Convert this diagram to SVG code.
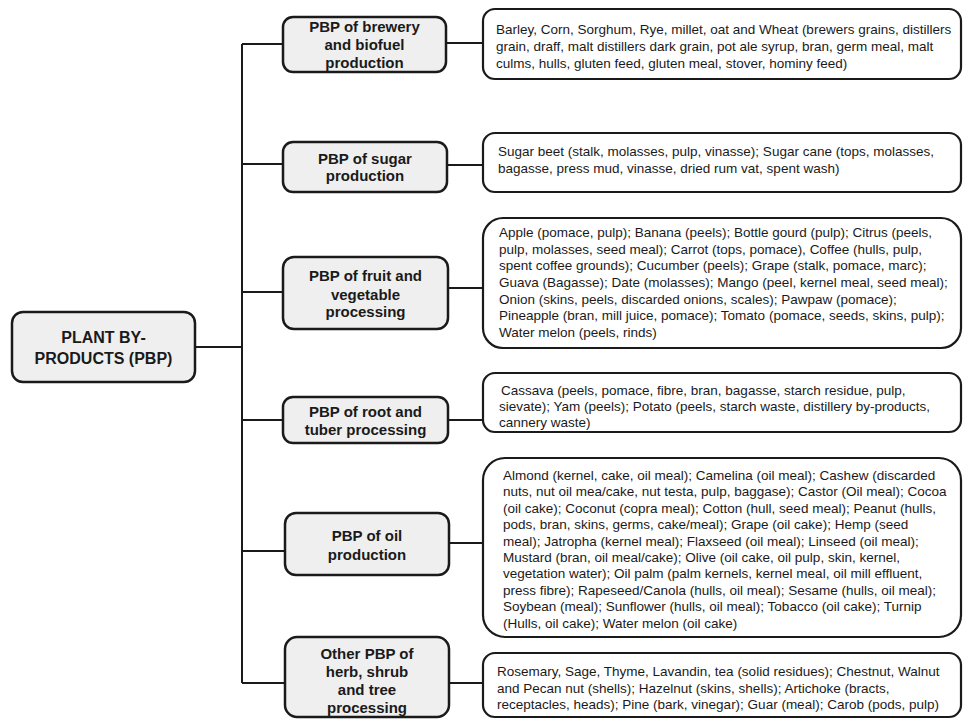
<svg xmlns="http://www.w3.org/2000/svg" width="964" height="719" viewBox="0 0 964 719">
<style>
.bg{fill:#ffffff}
.node{fill:#efefef;stroke:#1a1a1a;stroke-width:2.5}
.box{fill:#ffffff;stroke:#1a1a1a;stroke-width:2.2}
.nt{font-family:"Liberation Sans",Arial,sans-serif;font-weight:bold;font-size:15px;fill:#1a1a1a;text-anchor:middle}
.rt{font-family:"Liberation Sans",Arial,sans-serif;font-weight:bold;font-size:16px;fill:#1a1a1a;text-anchor:middle}
.bt{font-family:"Liberation Sans",Arial,sans-serif;font-size:13.5px;fill:#1a1a1a}
.con{stroke:#1a1a1a;stroke-width:2;fill:none}
</style>
<rect class="bg" x="0" y="0" width="964" height="719"/>
<g id="connectors">
<path class="con" d="M195,347 H242 M242,44 V683 M242,44 H283 M242,164 H283 M242,292 H283 M242,420 H283 M242,551 H285 M242,683 H285"/>
<path class="con" d="M446,43 H483 M447,165 H483 M448,288 H483 M448,420 H483 M449,543 H483 M449,683 H483"/>
</g>
<g id="root">
<rect class="node" x="12" y="312" width="183" height="70" rx="11"/>
<text class="rt" x="103.5" y="343">PLANT BY-</text>
<text class="rt" x="103.5" y="364">PRODUCTS (PBP)</text>
</g>
<g id="brewery">
<rect class="node" x="283" y="17" width="163" height="55" rx="10"/>
<text class="nt" x="364.5" y="32">PBP of brewery</text>
<text class="nt" x="364.5" y="50">and biofuel</text>
<text class="nt" x="364.5" y="68">production</text>
</g>
<g id="sugar">
<rect class="node" x="283" y="142" width="164" height="50" rx="10"/>
<text class="nt" x="365" y="164">PBP of sugar</text>
<text class="nt" x="365" y="181">production</text>
</g>
<g id="fruit">
<rect class="node" x="283" y="257" width="165" height="72" rx="11"/>
<text class="nt" x="365.5" y="281">PBP of fruit and</text>
<text class="nt" x="365.5" y="300">vegetable</text>
<text class="nt" x="365.5" y="317">processing</text>
</g>
<g id="roottuber">
<rect class="node" x="283" y="397" width="165" height="46" rx="10"/>
<text class="nt" x="365.5" y="417">PBP of root and</text>
<text class="nt" x="365.5" y="435">tuber processing</text>
</g>
<g id="oil">
<rect class="node" x="285" y="513" width="164" height="62" rx="11"/>
<text class="nt" x="367" y="541">PBP of oil</text>
<text class="nt" x="367" y="560">production</text>
</g>
<g id="other">
<rect class="node" x="285" y="637" width="164" height="80" rx="12"/>
<text class="nt" x="367" y="659">Other PBP of</text>
<text class="nt" x="367" y="677">herb, shrub</text>
<text class="nt" x="367" y="695">and tree</text>
<text class="nt" x="367" y="713">processing</text>
</g>
<g id="brewery-items">
<rect class="box" x="483" y="9" width="478" height="70" rx="12"/>
<text class="bt" x="496" y="34">Barley, Corn, Sorghum, Rye, millet, oat and Wheat (brewers grains, distillers</text>
<text class="bt" x="496" y="51">grain, draff, malt distillers dark grain, pot ale syrup, bran, germ meal, malt</text>
<text class="bt" x="496" y="68">culms, hulls, gluten feed, gluten meal, stover, hominy feed)</text>
</g>
<g id="sugar-items">
<rect class="box" x="483" y="133" width="478" height="59" rx="12"/>
<text class="bt" x="498" y="156">Sugar beet (stalk, molasses, pulp, vinasse); Sugar cane (tops, molasses,</text>
<text class="bt" x="498" y="173">bagasse, press mud, vinasse, dried rum vat, spent wash)</text>
</g>
<g id="fruit-items">
<rect class="box" x="483" y="218" width="478" height="130" rx="20"/>
<text class="bt" x="499" y="237">Apple (pomace, pulp); Banana (peels); Bottle gourd (pulp); Citrus (peels,</text>
<text class="bt" x="499" y="254">pulp, molasses, seed meal); Carrot (tops, pomace), Coffee (hulls, pulp,</text>
<text class="bt" x="499" y="270">spent coffee grounds); Cucumber (peels); Grape (stalk, pomace, marc);</text>
<text class="bt" x="499" y="287">Guava (Bagasse); Date (molasses); Mango (peel, kernel meal, seed meal);</text>
<text class="bt" x="499" y="304">Onion (skins, peels, discarded onions, scales); Pawpaw (pomace);</text>
<text class="bt" x="499" y="320">Pineapple (bran, mill juice, pomace); Tomato (pomace, seeds, skins, pulp);</text>
<text class="bt" x="499" y="337">Water melon (peels, rinds)</text>
</g>
<g id="root-items">
<rect class="box" x="483" y="373" width="478" height="59" rx="12"/>
<text class="bt" x="501" y="395">Cassava (peels, pomace, fibre, bran, bagasse, starch residue, pulp,</text>
<text class="bt" x="499" y="411">sievate); Yam (peels); Potato (peels, starch waste, distillery by-products,</text>
<text class="bt" x="499" y="427">cannery waste)</text>
</g>
<g id="oil-items">
<rect class="box" x="483" y="458" width="478" height="179" rx="22"/>
<text class="bt" x="503" y="480">Almond (kernel, cake, oil meal); Camelina (oil meal); Cashew (discarded</text>
<text class="bt" x="503" y="496">nuts, nut oil mea/cake, nut testa, pulp, baggase); Castor (Oil meal); Cocoa</text>
<text class="bt" x="503" y="513">(oil cake); Coconut (copra meal); Cotton (hull, seed meal); Peanut (hulls,</text>
<text class="bt" x="503" y="529">pods, bran, skins, germs, cake/meal); Grape (oil cake); Hemp (seed</text>
<text class="bt" x="503" y="546">meal); Jatropha (kernel meal); Flaxseed (oil meal); Linseed (oil meal);</text>
<text class="bt" x="503" y="562">Mustard (bran, oil meal/cake); Olive (oil cake, oil pulp, skin, kernel,</text>
<text class="bt" x="503" y="578">vegetation water); Oil palm (palm kernels, kernel meal, oil mill effluent,</text>
<text class="bt" x="503" y="595">press fibre); Rapeseed/Canola (hulls, oil meal); Sesame (hulls, oil meal);</text>
<text class="bt" x="503" y="611">Soybean (meal); Sunflower (hulls, oil meal); Tobacco (oil cake); Turnip</text>
<text class="bt" x="503" y="628">(Hulls, oil cake); Water melon (oil cake)</text>
</g>
<g id="other-items">
<rect class="box" x="483" y="653" width="478" height="64" rx="12"/>
<text class="bt" x="497" y="676">Rosemary, Sage, Thyme, Lavandin, tea (solid residues); Chestnut, Walnut</text>
<text class="bt" x="497" y="693">and Pecan nut (shells); Hazelnut (skins, shells); Artichoke (bracts,</text>
<text class="bt" x="497" y="709">receptacles, heads); Pine (bark, vinegar); Guar (meal); Carob (pods, pulp)</text>
</g>
</svg>
